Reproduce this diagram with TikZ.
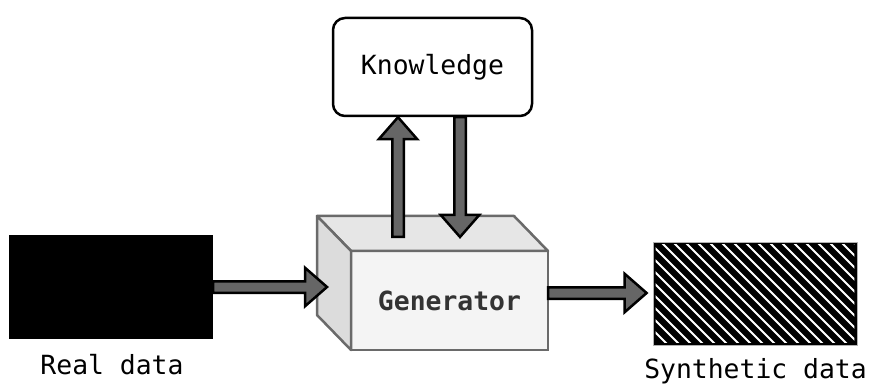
\documentclass[tikz,border=0pt]{standalone}
\usepackage{fontspec}
\setmonofont{DejaVu Sans Mono}
\usetikzlibrary{calc, positioning}
\definecolor{shaftgray}{HTML}{666666}
\definecolor{edgegray}{HTML}{6A6A6A}
\definecolor{frontgray}{HTML}{F4F4F4}
\definecolor{topgray}{HTML}{E6E6E6}
\definecolor{sidegray}{HTML}{DCDCDC}
\definecolor{labelgray}{HTML}{333333}
\tikzset{
  databox/.style={
    rectangle,
    minimum width=204pt,
    minimum height=103pt,
    fill=black
  },
  knowbox/.style={
    rectangle,
    rounded corners=12pt,
    minimum width=199pt,
    minimum height=98pt,
    draw=black,
    line width=2.5pt,
    fill=white,
    font=\ttfamily\fontsize{26.4}{32}\selectfont
  },
  genface/.style={
    rectangle,
    minimum width=197pt,
    minimum height=99pt,
    draw=edgegray,
    line width=2.5pt,
    fill=frontgray,
    outer sep=0pt,
    text=labelgray,
    font=\ttfamily\bfseries\fontsize{26.4}{32}\selectfont
  },
  genedge/.style={
    draw=edgegray,
    line width=2.5pt,
    line join=round
  },
  caption/.style={
    anchor=base,
    font=\ttfamily\fontsize{26.4}{32}\selectfont
  },
  hatchline/.style={
    draw=white,
    line width=1.8pt
  },
  fatarrow/.style={
    draw=black,
    fill=shaftgray,
    line width=2.5pt,
    line join=miter,
    to path={
      let \p1=(\tikztostart), \p2=(\tikztotarget),
          \n1={atan2(\y2-\y1,\x2-\x1)},
          \n2={veclen(\x2-\x1,\y2-\y1)},
          \n3={\n2-22} in
      ([shift={(\p1)}, rotate=\n1] 0pt,5.75pt)
      -- ([shift={(\p1)}, rotate=\n1] \n3*1pt,5.75pt)
      -- ([shift={(\p1)}, rotate=\n1] \n3*1pt,19.25pt)
      -- ([shift={(\p1)}, rotate=\n1] \n2*1pt,0pt)
      -- ([shift={(\p1)}, rotate=\n1] \n3*1pt,-19.25pt)
      -- ([shift={(\p1)}, rotate=\n1] \n3*1pt,-5.75pt)
      -- ([shift={(\p1)}, rotate=\n1] 0pt,-5.75pt)
      -- cycle
    }
  }
}

\begin{document}
\begin{tikzpicture}[x=1pt, y=1pt]
  \useasboundingbox (0,0) rectangle (872,383);

  % Data blocks and knowledge source
  \node (real) [databox] at (111,96) {};
  \node (synth) [databox, draw=gray!60, line width=0.8pt] at (755,89.5) {};
  \node (know) [knowbox] at (432.5,316) {Knowledge};

  % Diagonal hatching on the synthetic block
  \begin{scope}
    \clip ($(synth.south west)+(3,3)$) rectangle ($(synth.north east)+(-3,-3)$);
    \foreach \k in {0,...,27}
      \draw[hatchline] ($(synth.north west)+(\k*12-112,0)$) -- ++(112,-112);
  \end{scope}

  % Generator block: front face, then top and side
  \node (gen) [genface] at (449.5,82.5) {Generator};
  \draw[genedge, fill=topgray] (gen.north west) -- ++(-34,35)
    -- ($(gen.north east)+(-34,35)$) -- (gen.north east) -- cycle;
  \draw[genedge, fill=sidegray] (gen.north west) -- ++(-34,35)
    -- ($(gen.south west)+(-34,35)$) -- (gen.south west) -- cycle;

  % Labels
  \node (reallbl) [caption] at ($(real.south)+(1,-36)$) {Real data};
  \node (synthlbl) [caption] at ($(synth.south)+(0.5,-33)$) {Synthetic data};

  % Arrow end points
  \coordinate (genin) at ($(real.east -| gen.west)+(-24,0)$);
  \coordinate (upfoot) at ($(gen.north)+(-51.5,14)$);
  \coordinate (uptip) at (upfoot |- know.south);
  \coordinate (downtip) at ($(gen.north)+(10.5,14)$);
  \coordinate (downfoot) at (downtip |- know.south);
  \coordinate (genout) at ($(gen.east)+(0,7.5)$);
  \coordinate (synthin) at ($(genout -| synth.west)+(-6,0)$);

  % Flow arrows
  \draw[fatarrow] (real.east) to (genin);
  \draw[fatarrow] (upfoot) to (uptip);
  \draw[fatarrow] (downfoot) to (downtip);
  \draw[fatarrow] (genout) to (synthin);

\end{tikzpicture}
\end{document}
